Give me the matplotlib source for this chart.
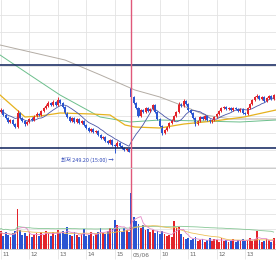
import numpy as np
import pandas as pd
import matplotlib
matplotlib.use("Agg")
import matplotlib.pyplot as plt
import matplotlib.transforms as mtransforms

# 5-minute bars: day 1 from 10:55 to 15:30, day 2 (05/06) from 09:00
opens = [
    250.37, 250.43, 250.49, 250.34, 250.25, 250.13, 250.19, 250.07, 249.98, 250.40,
    250.25, 250.16, 250.07, 250.13, 250.22, 250.19, 250.31, 250.37, 250.34, 250.46,
    250.55, 250.61, 250.70, 250.64, 250.73, 250.64, 250.79, 250.70, 250.58, 250.40,
    250.28, 250.16, 250.25, 250.13, 250.22, 250.10, 250.16, 250.04, 249.95, 249.86,
    249.92, 249.83, 249.86, 249.74, 249.65, 249.68, 249.56, 249.50, 249.59, 249.44,
    249.41, 249.50, 249.41, 249.35, 249.29, 249.32, 251.15, 250.88, 250.70, 250.55,
    250.31, 250.49, 250.43, 250.55, 250.46, 250.52, 250.64, 250.43, 250.22, 250.01,
    249.80, 249.89, 249.98, 250.10, 250.19, 250.31, 250.43, 250.67, 250.61, 250.76,
    250.67, 250.49, 250.40, 250.25, 250.07, 250.16, 250.28, 250.22, 250.31, 250.19,
    250.13, 250.19, 250.28, 250.37, 250.46, 250.55, 250.58, 250.52, 250.55, 250.49,
    250.55, 250.52, 250.46, 250.52, 250.40, 250.37, 250.55, 250.67, 250.79, 250.88,
    250.91, 250.82, 250.88, 250.76, 250.85, 250.91, 250.82,
]
closes = [
    250.43, 250.49, 250.34, 250.25, 250.13, 250.19, 250.07, 249.98, 250.40, 250.25,
    250.16, 250.07, 250.13, 250.22, 250.19, 250.31, 250.37, 250.34, 250.46, 250.55,
    250.61, 250.70, 250.64, 250.73, 250.64, 250.79, 250.70, 250.58, 250.40, 250.28,
    250.16, 250.25, 250.13, 250.22, 250.10, 250.16, 250.04, 249.95, 249.86, 249.92,
    249.83, 249.86, 249.74, 249.65, 249.68, 249.56, 249.50, 249.59, 249.44, 249.41,
    249.50, 249.41, 249.35, 249.29, 249.32, 249.23, 250.88, 250.70, 250.55, 250.31,
    250.49, 250.43, 250.55, 250.46, 250.52, 250.64, 250.43, 250.22, 250.01, 249.80,
    249.89, 249.98, 250.10, 250.19, 250.31, 250.43, 250.67, 250.61, 250.76, 250.67,
    250.49, 250.40, 250.25, 250.07, 250.16, 250.28, 250.22, 250.31, 250.19, 250.13,
    250.19, 250.28, 250.37, 250.46, 250.55, 250.58, 250.52, 250.55, 250.49, 250.55,
    250.52, 250.46, 250.52, 250.40, 250.37, 250.55, 250.67, 250.79, 250.88, 250.91,
    250.82, 250.88, 250.76, 250.85, 250.91, 250.82, 250.94,
]
highs = [
    250.49, 250.55, 250.52, 250.37, 250.28, 250.22, 250.22, 250.10, 250.49, 250.43,
    250.28, 250.19, 250.16, 250.25, 250.28, 250.34, 250.43, 250.40, 250.49, 250.58,
    250.67, 250.76, 250.73, 250.79, 250.76, 250.88, 250.82, 250.73, 250.61, 250.43,
    250.31, 250.28, 250.28, 250.25, 250.25, 250.19, 250.19, 250.07, 249.98, 249.95,
    249.95, 249.89, 249.89, 249.77, 249.71, 249.71, 249.59, 249.62, 249.62, 249.47,
    249.56, 249.53, 249.44, 249.38, 249.35, 249.35, 251.18, 250.91, 250.73, 250.58,
    250.52, 250.52, 250.58, 250.58, 250.55, 250.67, 250.67, 250.46, 250.25, 250.04,
    249.92, 250.01, 250.13, 250.22, 250.34, 250.46, 250.73, 250.70, 250.82, 250.79,
    250.70, 250.52, 250.43, 250.28, 250.19, 250.31, 250.31, 250.34, 250.34, 250.22,
    250.22, 250.31, 250.40, 250.49, 250.58, 250.61, 250.61, 250.58, 250.58, 250.58,
    250.58, 250.55, 250.55, 250.55, 250.43, 250.58, 250.70, 250.82, 250.91, 250.97,
    250.94, 250.91, 250.91, 250.88, 250.94, 250.94, 250.97,
]
lows = [
    250.34, 250.40, 250.31, 250.22, 250.10, 250.10, 250.04, 249.95, 249.95, 250.22,
    250.13, 250.01, 250.04, 250.10, 250.16, 250.16, 250.28, 250.31, 250.31, 250.43,
    250.52, 250.58, 250.61, 250.61, 250.61, 250.61, 250.67, 250.55, 250.37, 250.25,
    250.13, 250.13, 250.10, 250.10, 250.07, 250.07, 250.01, 249.92, 249.83, 249.83,
    249.80, 249.80, 249.71, 249.62, 249.62, 249.53, 249.47, 249.47, 249.41, 249.20,
    249.38, 249.38, 249.32, 249.26, 249.26, 249.22, 250.82, 250.67, 250.52, 250.28,
    250.28, 250.40, 250.40, 250.43, 250.43, 250.49, 250.40, 250.19, 249.98, 249.74,
    249.77, 249.86, 249.95, 250.07, 250.16, 250.28, 250.40, 250.58, 250.58, 250.64,
    250.46, 250.37, 250.22, 250.01, 250.04, 250.13, 250.19, 250.19, 250.16, 250.10,
    250.10, 250.16, 250.25, 250.34, 250.43, 250.52, 250.49, 250.49, 250.46, 250.46,
    250.49, 250.43, 250.43, 250.37, 250.34, 250.34, 250.52, 250.64, 250.76, 250.85,
    250.79, 250.79, 250.73, 250.73, 250.82, 250.79, 250.79,
]
volumes = [
    1500, 1800, 1300, 1700, 1400, 1200, 1600, 1800, 4000, 1900,
    1400, 1600, 1300, 1700, 1200, 1400, 1600, 1300, 1700, 1400,
    1800, 1600, 1300, 1700, 1400, 1900, 1600, 1800, 1500, 2200,
    1400, 1300, 1700, 1400, 1200, 1500, 2000, 1300, 1400, 1700,
    1300, 1500, 1700, 2100, 1600, 1500, 1800, 2100, 2000, 2900,
    2400, 2000, 1700, 2100, 1900, 1700, 5600, 3200, 2800, 2500,
    2100, 2400, 1900, 2000, 1700, 1900, 1600, 1800, 1500, 1800,
    1500, 1300, 1400, 1200, 2800, 2100, 2200, 1500, 1200, 1000,
    1100, 900, 1000, 1200, 800, 900, 1000, 700, 900, 1100,
    800, 1000, 900, 700, 1100, 800, 900, 700, 800, 1000,
    700, 900, 800, 1000, 800, 900, 1100, 800, 1000, 1800,
    900, 700, 800, 1000, 900, 700, 1100,
]

hour_ticks = [1, 13, 25, 37, 49, 56, 68, 80, 92, 104]
hour_labels = ["11", "12", "13", "14", "15", "05/06", "10", "11", "12", "13"]
day_start = 56

# longer moving averages at a few bars
ma_gray_at = [0.6, 28, 43, 57.5, 68, 78, 87, 98, 117]
ma_gray = [252.44, 251.99, 251.54, 251.09, 250.88, 250.61, 250.34, 250.22, 250.22]
ma_green_at = [0.6, 13.2, 25.9, 42.8, 55.4, 68, 85, 101.8, 117]
ma_green = [252.14, 251.54, 250.94, 250.28, 250.13, 250.19, 250.16, 250.13, 250.19]
ma_orange_at = [0.6, 11.1, 17.5, 25.9, 39.4, 47, 53.3, 57.5, 68, 78.2, 90.9, 103.5, 117]
ma_orange = [250.94, 250.28, 250.31, 250.40, 250.37, 250.34, 250.04, 249.98, 249.95,
             250.07, 250.16, 250.28, 250.49]

level_hi = 251.83
level_lo = 249.35
low_label = "최저 249.20 (15:00) →"
low_label_y = 248.99

RED = "#e3232b"
BLUE = "#2a55d2"
GRID = "#e3e3e3"

x = np.arange(len(closes))
o = np.array(opens)
c = np.array(closes)
up = c >= o
colors = np.where(up, RED, BLUE)

W, H = 276, 260
fig = plt.figure(figsize=(W / 100, H / 100), dpi=100)
ax = fig.add_axes([0, 1 - 168 / H, 1, 168 / H])
axv = fig.add_axes([0, 11 / H, 1, 80 / H])

for a in (ax, axv):
    a.set_xlim(0.58, 117.0)
    a.set_xticks(hour_ticks)
    a.grid(True, color=GRID, lw=0.6)
    a.set_axisbelow(True)
    a.tick_params(length=0, labelleft=False, labelbottom=False)
    for s in ("top", "left", "right"):
        a.spines[s].set_visible(False)
    a.spines["bottom"].set_color("#c4c4c4")
    a.spines["bottom"].set_linewidth(0.6)

# price panel
ax.set_ylim(248.75, 253.79)
ax.set_yticks([248.78, 249.29, 249.80, 250.31, 250.82, 251.30, 251.81, 252.32, 252.83, 253.34])

ax.plot(ma_gray_at, ma_gray, color="#b3aca4", lw=0.7)
ax.plot(ma_green_at, ma_green, color="#6cbf8c", lw=0.7)
ax.plot(ma_orange_at, ma_orange, color="#e6b21e", lw=0.9)
ma10 = pd.Series(closes).rolling(10, min_periods=1).mean()
ax.plot(x, ma10, color="#4a55a8", lw=0.6)

ax.vlines(x, lows, highs, colors=colors, lw=0.7)
body = np.maximum(np.abs(c - o), 0.015)
ax.bar(x, body, bottom=np.minimum(o, c), width=0.85, color=colors, lw=0)

ax.axhline(level_hi, color="#0c1f5a", lw=1.1)
ax.axhline(level_lo, color="#0c1f5a", lw=1.1)

ax.text(48.6, low_label_y, low_label, ha="right", va="center", fontsize=3.9,
        color="#2d46b8", family=["Noto Sans CJK KR", "DejaVu Sans"])

# volume panel
axv.set_ylim(0, 8000)
axv.set_yticks([500, 2000, 3500, 5000, 6500])
axv.bar(x, volumes, width=0.75, color=colors, lw=0)
vol = pd.Series(volumes)
axv.plot(x, vol.rolling(60, min_periods=1).mean() + 400, color="#86c795", lw=0.6)
axv.plot(x, vol.rolling(20, min_periods=1).mean(), color="#ecc05a", lw=0.6)
axv.plot(x, vol.rolling(5, min_periods=1).mean(), color="#e48ac8", lw=0.6)

# day boundary
for a in (ax, axv):
    a.axvline(day_start - 0.1, color="#e0587a", lw=1.0, zorder=5)

# time labels under the volume panel
trans = mtransforms.blended_transform_factory(axv.transData, axv.transAxes)
axv.vlines(hour_ticks, -0.12, 0, transform=trans, clip_on=False, color=GRID, lw=0.6)
for t, lab in zip(hour_ticks, hour_labels):
    axv.text(t + 0.5, -0.07, lab, transform=trans, ha="left", va="center",
             fontsize=4.2, color="#666666")

fig.savefig("out.png", dpi=100, facecolor="white")
